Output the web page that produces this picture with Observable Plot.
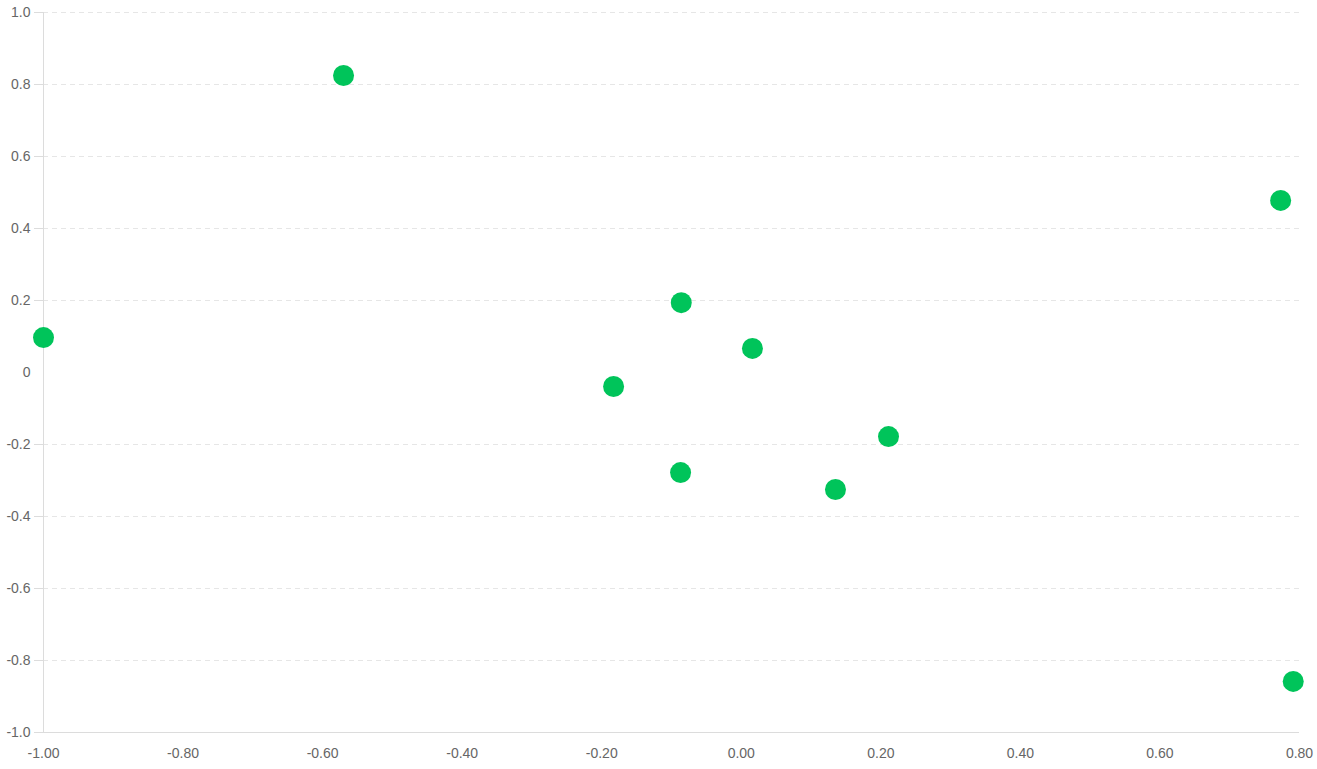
<!DOCTYPE html>
<html>
<head>
<meta charset="utf-8">
<script src="https://cdn.jsdelivr.net/npm/d3@7"></script>
<script src="https://cdn.jsdelivr.net/npm/@observablehq/plot@0.6"></script>
<style>
  html, body { margin: 0; padding: 0; background: #fff; }
  #chart svg { display: block; }
  #chart svg text { font-size: 14px !important; font-family: Arial, 'Liberation Sans', Helvetica, sans-serif !important; }
</style>
</head>
<body>
<div id="chart"></div>
<script>
const xValues = [-1.00, -0.570, 0.773, -0.086, 0.016, -0.183, 0.211, -0.087, 0.135, 0.791];
const yValues = [0.097, 0.825, 0.478, 0.194, 0.067, -0.039, -0.178, -0.278, -0.325, -0.858];
const xTicks = [-1.0, -0.8, -0.6, -0.4, -0.2, 0, 0.2, 0.4, 0.6, 0.8];
const yTicks = [-1.0, -0.8, -0.6, -0.4, -0.2, 0, 0.2, 0.4, 0.6, 0.8, 1.0];

const data = xValues.map((x, i) => ({x, y: yValues[i]}));
const isZero = d => Math.abs(d) < 1e-9;
const yFmt = d => isZero(d) ? "0" : d.toFixed(1);
const xFmt = d => (isZero(d) ? 0 : d).toFixed(2);
const yNonZero = yTicks.filter(d => !isZero(d));
const yZero = yTicks.filter(isZero);

const font = "Arial, 'Liberation Sans', Helvetica, sans-serif";
const chart = Plot.plot({
  width: 1317,
  height: 769,
  marginLeft: 43,
  marginRight: 18,
  marginTop: 12,
  marginBottom: 37,
  style: {fontFamily: font, fontSize: "14px", color: "#666", background: "#fff"},
  x: {domain: [-1, 0.8]},
  y: {domain: [-1, 1]},
  marks: [
    Plot.ruleY(yNonZero, {stroke: "#e6e6e6", strokeDasharray: "5,4", strokeWidth: 1}),
    Plot.ruleY([-1], {stroke: "#dcdcdc", strokeWidth: 1}),
    Plot.ruleX([-1], {stroke: "#dcdcdc", strokeWidth: 1}),
    Plot.axisY(yNonZero, {tickFormat: yFmt, tickSize: 9, tickPadding: 4, stroke: "#dcdcdc", fill: "#666", fontSize: 14, label: null}),
    Plot.axisY(yZero, {tickFormat: yFmt, tickSize: 9, tickPadding: 4, stroke: "transparent", fill: "#666", fontSize: 14, label: null}),
    Plot.axisX(xTicks, {tickFormat: xFmt, tickSize: 0, tickPadding: 16, fill: "#666", fontSize: 14, label: null}),
    Plot.dot(data, {x: "x", y: "y", r: 10.5, fill: "#00c45a", stroke: null})
  ]
});
document.getElementById("chart").appendChild(chart);
</script>
</body>
</html>
